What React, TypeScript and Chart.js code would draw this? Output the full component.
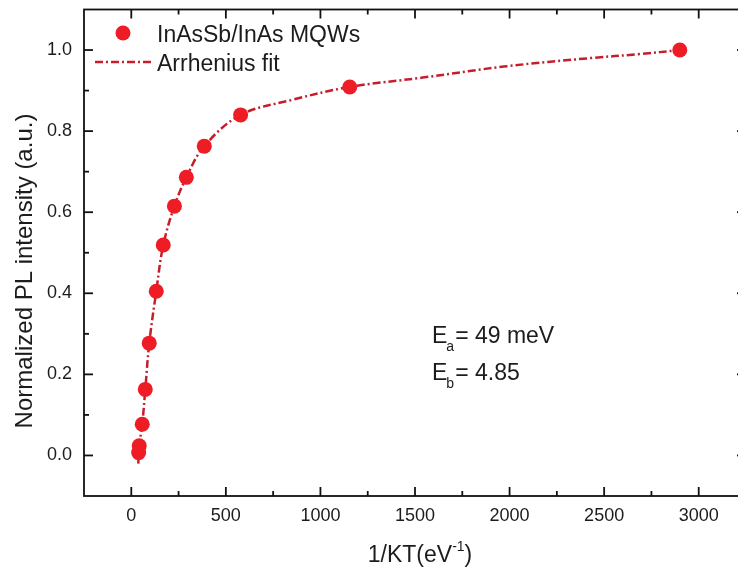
import React, { useEffect, useRef } from 'react';
import { Chart, registerables } from 'chart.js';

Chart.register(...registerables);

// ---- data ----
const pointX = [2900, 1155, 578, 386, 291, 228, 169, 132, 95, 74, 58, 42, 39];
const pointY = [1.0, 0.909, 0.84, 0.763, 0.686, 0.615, 0.519, 0.405, 0.277, 0.163, 0.077, 0.024, 0.007];
const fitX = [37, 42, 58, 74, 95, 132, 169, 228, 291, 386, 578, 850, 1155, 1540, 1984, 2423, 2688, 2900];
const fitY = [-0.02, 0.024, 0.077, 0.163, 0.277, 0.405, 0.519, 0.615, 0.686, 0.763, 0.84, 0.877, 0.909, 0.932, 0.96, 0.98, 0.99, 1.0];
const xTicks = [0, 500, 1000, 1500, 2000, 2500, 3000];
const xMinorTicks = [250, 750, 1250, 1750, 2250, 2750];
const yTicks = [0, 0.2, 0.4, 0.6, 0.8, 1.0];
const yMinorTicks = [0.1, 0.3, 0.5, 0.7, 0.9];
const seriesLabels = ['InAsSb/InAs MQWs', 'Arrhenius fit'];
const yTitle = 'Normalized PL intensity (a.u.)';
const xTitleMain = '1/KT(eV';
const xTitleSup = '-1';
const annotA = { sub: 'a', text: '= 49 meV' };
const annotB = { sub: 'b', text: '= 4.85' };

const FONT = '"Liberation Sans", Arial, Helvetica, sans-serif';
const POINT_COLOR = '#ee1c24';
const FIT_COLOR = '#c41e2c';
const FIT_DASH = [8, 3, 2, 3];
const TEXT = '#1c1c1c';

const decorPlugin = {
  id: 'decor',
  afterDraw(chart: any) {
    const { ctx, chartArea: a, scales } = chart;
    const xs = scales.x;
    const ys = scales.y;
    ctx.save();
    // frame
    ctx.strokeStyle = '#111';
    ctx.lineWidth = 1.8;
    ctx.setLineDash([]);
    ctx.strokeRect(a.left, a.top, a.right - a.left, a.bottom - a.top);
    const seg = (x1: number, y1: number, x2: number, y2: number) => {
      ctx.beginPath();
      ctx.moveTo(x1, y1);
      ctx.lineTo(x2, y2);
      ctx.stroke();
    };
    const xt = (vals: number[], len: number) =>
      vals.forEach((v) => {
        const p = xs.getPixelForValue(v);
        seg(p, a.bottom, p, a.bottom - len);
        seg(p, a.top, p, a.top + len);
      });
    const yt = (vals: number[], len: number) =>
      vals.forEach((v) => {
        const p = ys.getPixelForValue(v);
        seg(a.left, p, a.left + len, p);
        seg(a.right, p, a.right - len, p);
      });
    xt(xTicks, 9);
    xt(xMinorTicks, 5);
    yt(yTicks, 9);
    yt(yMinorTicks, 5);

    // legend
    ctx.fillStyle = POINT_COLOR;
    ctx.beginPath();
    ctx.arc(123, 33, 7.5, 0, Math.PI * 2);
    ctx.fill();
    ctx.strokeStyle = FIT_COLOR;
    ctx.lineWidth = 2.5;
    ctx.setLineDash(FIT_DASH);
    seg(95, 62, 151, 62);
    ctx.setLineDash([]);
    ctx.fillStyle = TEXT;
    ctx.textAlign = 'left';
    ctx.textBaseline = 'alphabetic';
    ctx.font = `23px ${FONT}`;
    ctx.fillText(seriesLabels[0], 157, 42);
    ctx.fillText(seriesLabels[1], 157, 71);

    // annotation
    const drawE = (x: number, y: number, sub: string, text: string) => {
      ctx.font = `23px ${FONT}`;
      ctx.fillText('E', x, y);
      const w = ctx.measureText('E').width;
      ctx.font = `14px ${FONT}`;
      ctx.fillText(sub, x + w - 1, y + 8);
      const ws = ctx.measureText(sub).width;
      ctx.font = `23px ${FONT}`;
      ctx.fillText(text, x + w + ws, y);
    };
    drawE(432, 343, annotA.sub, annotA.text);
    drawE(432, 380, annotB.sub, annotB.text);

    // x title
    ctx.font = `23px ${FONT}`;
    const w1 = ctx.measureText(xTitleMain).width;
    ctx.font = `14px ${FONT}`;
    const w2 = ctx.measureText(xTitleSup).width;
    ctx.font = `23px ${FONT}`;
    const w3 = ctx.measureText(')').width;
    const total = w1 + w2 + w3;
    const tx = 420 - total / 2;
    ctx.fillText(xTitleMain, tx, 562);
    ctx.font = `14px ${FONT}`;
    ctx.fillText(xTitleSup, tx + w1, 551);
    ctx.font = `23px ${FONT}`;
    ctx.fillText(')', tx + w1 + w2, 562);

    // y title
    ctx.save();
    ctx.translate(32, 271);
    ctx.rotate(-Math.PI / 2);
    ctx.textAlign = 'center';
    ctx.textBaseline = 'alphabetic';
    ctx.font = `24px ${FONT}`;
    ctx.fillText(yTitle, 0, 0);
    ctx.restore();

    ctx.restore();
  },
};

export default function App() {
  const canvasRef = useRef<HTMLCanvasElement | null>(null);

  useEffect(() => {
    const canvas = canvasRef.current;
    if (!canvas) return;
    const chart = new Chart(canvas, {
      type: 'scatter',
      data: {
        datasets: [
          {
            type: 'line',
            label: seriesLabels[1],
            data: fitX.map((x, i) => ({ x, y: fitY[i] })),
            borderColor: FIT_COLOR,
            borderWidth: 2.5,
            borderDash: FIT_DASH,
            pointRadius: 0,
            fill: false,
            tension: 0.35,
            order: 2,
          } as any,
          {
            type: 'scatter',
            label: seriesLabels[0],
            data: pointX.map((x, i) => ({ x, y: pointY[i] })),
            backgroundColor: POINT_COLOR,
            borderColor: POINT_COLOR,
            borderWidth: 0,
            pointRadius: 7.5,
            order: 1,
          },
        ],
      },
      options: {
        responsive: false,
        animation: false,
        layout: { autoPadding: false, padding: { top: 9.5, right: 14, left: 0, bottom: 0 } },
        plugins: { legend: { display: false }, tooltip: { enabled: false } },
        scales: {
          x: {
            type: 'linear',
            min: -250,
            max: 3250,
            afterBuildTicks: (s: any) => {
              s.ticks = xTicks.map((v) => ({ value: v }));
            },
            afterFit: (s: any) => {
              s.height = 77;
              s.paddingLeft = 0;
              s.paddingRight = 0;
            },
            grid: { display: false, drawTicks: false },
            border: { display: false },
            ticks: {
              color: TEXT,
              padding: 9,
              maxRotation: 0,
              font: { family: FONT, size: 18 },
              callback: (v: any) => String(v),
            },
          },
          y: {
            type: 'linear',
            min: -0.1,
            max: 1.1,
            afterBuildTicks: (s: any) => {
              s.ticks = yTicks.map((v) => ({ value: v }));
            },
            afterFit: (s: any) => {
              s.width = 84;
              s.paddingTop = 0;
              s.paddingBottom = 0;
            },
            grid: { display: false, drawTicks: false },
            border: { display: false },
            ticks: {
              color: TEXT,
              padding: 12,
              font: { family: FONT, size: 18 },
              callback: (v: any) => Number(v).toFixed(1),
            },
          },
        },
      },
      plugins: [decorPlugin],
    } as any);
    return () => chart.destroy();
  }, []);

  return (
    <div
      style={{
        position: 'fixed',
        left: 0,
        top: 0,
        width: 738,
        height: 573,
        overflow: 'hidden',
        background: '#fff',
      }}
    >
      <canvas ref={canvasRef} width={760} height={573} style={{ display: 'block' }} />
    </div>
  );
}
